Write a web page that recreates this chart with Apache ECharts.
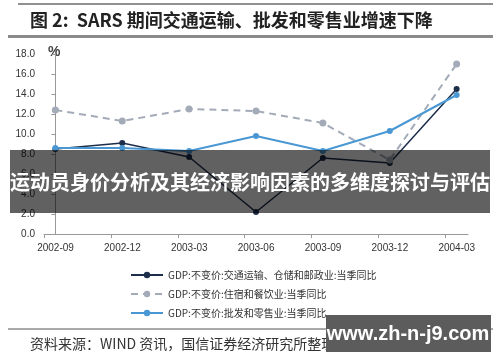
<!DOCTYPE html>
<html><head><meta charset="utf-8">
<script src="https://cdn.jsdelivr.net/npm/echarts@6/dist/echarts.min.js"></script>
<style>html,body{margin:0;padding:0;background:#fff}#c{width:500px;height:362px}</style>
</head><body><div id="c"></div>
<script>
const categories = ['2002-09','2002-12','2003-03','2003-06','2003-09','2003-12','2004-03'];
const transport = [8.5, 9.1, 7.7, 2.2, 7.6, 7.1, 14.5];
const hotel = [12.4, 11.3, 12.5, 12.3, 11.1, 7.4, 17.0];
const retail = [8.6, 8.6, 8.3, 9.8, 8.3, 10.3, 13.9];
const seriesNames = ['GDP:不变价:交通运输、仓储和邮政业:当季同比','GDP:不变价:住宿和餐饮业:当季同比','GDP:不变价:批发和零售业:当季同比'];
const yTicks = [0,2,4,6,8,10,12,14,16,18];

const off = 0.17;
const toPts = arr => arr.map((v,i)=>[i,v]);
const chart = echarts.init(document.getElementById('c'));
const font = '"Liberation Sans", Arial, sans-serif';
chart.setOption({
  animation:false,
  textStyle:{fontFamily:font},
  grid:{left:44,right:32,top:54,bottom:128},
  xAxis:{type:'value',min:-off,max:categories.length-1+off,interval:1,
    axisLine:{lineStyle:{color:'#999'}},
    axisTick:{show:true,length:4,lineStyle:{color:'#999'}},
    splitLine:{show:false},
    axisLabel:{color:'#333',fontSize:10,margin:9,padding:[0,0,0,23],
      formatter:v=>{const i=Math.round(v+off);return (v>categories.length-1-0.5)?(v<categories.length-1? categories[i]:''):(categories[i]||'');},
      showMaxLabel:false}
  },
  yAxis:{type:'value',min:yTicks[0],max:yTicks[yTicks.length-1],interval:2,
    axisLine:{show:true,lineStyle:{color:'#999'}},
    axisTick:{show:true,length:4,lineStyle:{color:'#999'}},
    splitLine:{show:false},
    axisLabel:{color:'#333',fontSize:10,margin:9,formatter:v=>v.toFixed(1)}
  },
  legend:{orient:'vertical',left:125,top:265,itemWidth:32,itemHeight:8,itemGap:9,
    textStyle:{fontSize:10,color:'#333',fontFamily:'"Noto Sans CJK SC", sans-serif'},
    data:seriesNames},
  series:[
    {name:seriesNames[0],type:'line',data:toPts(transport),symbol:'circle',symbolSize:6,
      itemStyle:{color:'#1c2e4a'},lineStyle:{color:'#1c2e4a',width:1.5}},
    {name:seriesNames[1],type:'line',data:toPts(hotel),symbol:'circle',symbolSize:7,
      itemStyle:{color:'#a3abb8'},lineStyle:{color:'#a3abb8',width:2,type:[7,5]}},
    {name:seriesNames[2],type:'line',data:toPts(retail),symbol:'circle',symbolSize:6,
      itemStyle:{color:'#4a98d3'},lineStyle:{color:'#4a98d3',width:2}}
  ],
  graphic:[
    {type:'line',shape:{x1:18,y1:4,x2:493,y2:4},style:{stroke:'#222',lineWidth:1}},
    {type:'text',left:30,top:11,style:{text:'图 2:  SARS 期间交通运输、批发和零售业增速下降',font:'bold 18px "Noto Sans CJK SC", sans-serif',fill:'#222'}},
    {type:'rect',shape:{x:8,y:35,width:485,height:3},style:{fill:'#8a8a8a'}},
    {type:'text',left:48,top:45,style:{text:'%',font:'bold 14px Arial, "Liberation Sans", sans-serif',fill:'#444'}},
    {type:'line',shape:{x1:8,y1:329,x2:493,y2:329},style:{stroke:'#555',lineWidth:1}},
    {type:'text',left:30,top:337,style:{text:'资料来源：WIND 资讯，国信证券经济研究所整理',font:'14px "Noto Sans CJK SC", sans-serif',fill:'#333'}},
    {type:'rect',shape:{x:10,y:150,width:480,height:63},style:{fill:'rgba(0,0,0,0.62)'},z:100},
    {type:'text',x:250,y:182,style:{text:'运动员身价分析及其经济影响因素的多维度探讨与评估',font:'bold 20px "Noto Sans CJK SC", sans-serif',fill:'#fff',align:'center',verticalAlign:'middle'},z:101},
    {type:'rect',shape:{x:326,y:315,width:165,height:37},style:{fill:'#5c5c5c'},z:100},
    {type:'text',x:408,y:334,style:{text:'www.zh-n-j9.com',font:'bold 20px "Liberation Sans", Arial, sans-serif',fill:'#fff',align:'center',verticalAlign:'middle'},z:101}
  ]
});
</script></body></html>
